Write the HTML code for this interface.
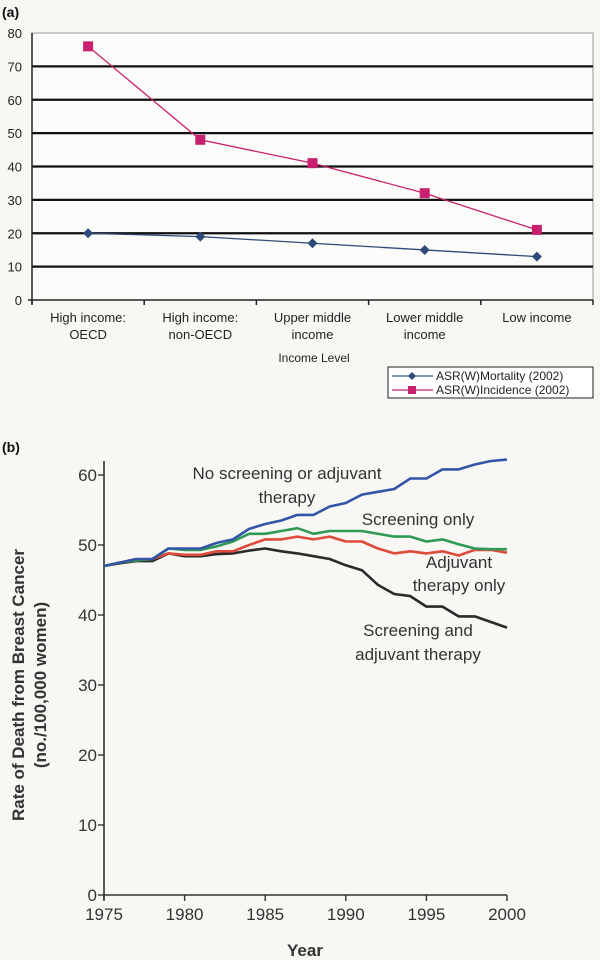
<!DOCTYPE html>
<html><head><meta charset="utf-8"><style>
html,body{margin:0;padding:0;background:#f8f7f4;}
svg{display:block;font-family:"Liberation Sans",sans-serif;}
</style></head><body>
<svg width="600" height="960" viewBox="0 0 600 960">
<text x="2" y="17" font-size="14" font-weight="bold" fill="#111">(a)</text>
<g id="chartA"></g>
<text x="2" y="452" font-size="14" font-weight="bold" fill="#111">(b)</text>
<g id="chartB"></g>
</svg>
<script>
// ---- Chart A data ----
const catsA = [["High income:","OECD"],["High income:","non-OECD"],["Upper middle","income"],["Lower middle","income"],["Low income",""]];
const mortality = [20, 19, 17, 15, 13];
const incidence = [76, 48, 41, 32, 21];
const ticksA = [0,10,20,30,40,50,60,70,80];
// ---- Chart B data ----
const years = [1975,1976,1977,1978,1979,1980,1981,1982,1983,1984,1985,1986,1987,1988,1989,1990,1991,1992,1993,1994,1995,1996,1997,1998,1999,2000];
const noScreen = [47,47.5,48,48,49.5,49.5,49.5,50.3,50.8,52.3,53,53.5,54.3,54.3,55.5,56,57.2,57.6,58,59.5,59.5,60.8,60.8,61.5,62,62.2];
const screenOnly = [47,47.5,47.8,48,49.5,49.3,49.3,49.8,50.5,51.6,51.6,52,52.4,51.6,52,52,52,51.6,51.2,51.2,50.5,50.8,50.1,49.5,49.4,49.4];
const adjOnly = [47,47.5,47.8,48,48.8,48.6,48.6,49.1,49.1,50,50.8,50.8,51.2,50.8,51.2,50.5,50.5,49.5,48.8,49.1,48.8,49.1,48.5,49.3,49.3,48.9];
const both = [47,47.4,47.7,47.7,48.8,48.4,48.4,48.7,48.8,49.2,49.5,49.1,48.8,48.4,48,47.1,46.4,44.3,43,42.7,41.2,41.2,39.8,39.8,39,38.2];
const ticksBy = [0,10,20,30,40,50,60];
const ticksBx = [1975,1980,1985,1990,1995,2000];

const NS="http://www.w3.org/2000/svg";
function mk(parent,tag,attrs,text){const e=document.createElementNS(NS,tag);for(const k in attrs)e.setAttribute(k,attrs[k]);if(text!==undefined)e.textContent=text;parent.appendChild(e);return e;}

// ---- Chart A ----
(function(){
const g=document.getElementById('chartA');
const L=32,R=593,T=33,B=300;
const y=v=>B-(v/80)*(B-T);
const band=(R-L)/catsA.length;
const x=i=>L+band*(i+0.5);
let r=mk(g,'rect',{x:L,y:T,width:R-L,height:B-T,fill:'#fbfbf9',stroke:'#999','stroke-width':1});

ticksA.forEach(t=>{
  if(t>0&&t<80){let l=mk(g,'line',{x1:L,x2:R,y1:y(t),y2:y(t),stroke:'#111','stroke-width':2.2});
  }
  let tx=mk(g,'text',{x:22,y:y(t)+5,'text-anchor':'end','font-size':13,fill:'#222'},t);
  
});
let ax=mk(g,'line',{x1:L,x2:L,y1:T,y2:B+4,stroke:'#222','stroke-width':1.5});

let bx=mk(g,'line',{x1:L-4,x2:R,y1:B,y2:B,stroke:'#222','stroke-width':1.5});

for(let i=0;i<=catsA.length;i++){let tk=mk(g,'line',{x1:L+band*i,x2:L+band*i,y1:B,y2:B+5,stroke:'#222','stroke-width':1.5});
}
catsA.forEach((c,i)=>{
  let t=mk(g,'text',{x:x(i),y:322,'text-anchor':'middle','font-size':13,fill:'#222'},c[0]);
  
  if(c[1]){let t2=mk(g,'text',{x:x(i),y:339,'text-anchor':'middle','font-size':13,fill:'#222'},c[1]);
  }
});
let xt=mk(g,'text',{x:314,y:362,'text-anchor':'middle','font-size':12,fill:'#222'},'Income Level');

function series(vals,color,marker,name){
  let p=mk(g,'polyline',{points:vals.map((v,i)=>x(i)+','+y(v)).join(' '),fill:'none',stroke:color,'stroke-width':1.3});
  
  vals.forEach((v,i)=>{
    let m;
    if(marker==='sq') m=mk(g,'rect',{x:x(i)-5,y:y(v)-5,width:10,height:10,fill:color});
    else m=mk(g,'polygon',{points:`${x(i)},${y(v)-5} ${x(i)+5},${y(v)} ${x(i)},${y(v)+5} ${x(i)-5},${y(v)}`,fill:color});
    
  });
}
series(mortality,'#2d4a7a','dia','mortality');
series(incidence,'#c8206e','sq','incidence');
// legend
let lg=mk(g,'g',{});
mk(lg,'rect',{x:388,y:367,width:205,height:31,fill:'#fff',stroke:'#222','stroke-width':1});
let e1=mk(lg,'g',{});
mk(e1,'line',{x1:392,x2:433,y1:376,y2:376,stroke:'#2d4a7a','stroke-width':1.3});
mk(e1,'polygon',{points:'412,372 416,376 412,380 408,376',fill:'#2d4a7a'});
mk(e1,'text',{x:436,y:380,'font-size':12,fill:'#222'},'ASR(W)Mortality (2002)');
let e2=mk(lg,'g',{});
mk(e2,'line',{x1:392,x2:433,y1:390,y2:390,stroke:'#c8206e','stroke-width':1.3});
mk(e2,'rect',{x:408,y:386,width:8,height:8,fill:'#c8206e'});
mk(e2,'text',{x:436,y:394,'font-size':12,fill:'#222'},'ASR(W)Incidence (2002)');
})();

// ---- Chart B ----
(function(){
const g=document.getElementById('chartB');
const L=104,R=507,B=895,PU=7.0;
const x=yr=>L+(yr-1975)*(R-L)/25;
const y=v=>B-v*PU;
let ax=mk(g,'line',{x1:L,x2:L,y1:y(62),y2:B+5,stroke:'#333','stroke-width':1.6});

let bx=mk(g,'line',{x1:L,x2:R,y1:B,y2:B,stroke:'#333','stroke-width':1.6});

ticksBy.forEach(t=>{
  let tk=mk(g,'line',{x1:L-6,x2:L,y1:y(t),y2:y(t),stroke:'#333','stroke-width':1.4});
  
  let tx=mk(g,'text',{x:L-7,y:y(t)+6,'text-anchor':'end','font-size':17,fill:'#333'},t);
  
});
ticksBx.forEach(t=>{
  let tk=mk(g,'line',{x1:x(t),x2:x(t),y1:B,y2:B+6,stroke:'#333','stroke-width':1.4});
  
  let tx=mk(g,'text',{x:x(t),y:B+25,'text-anchor':'middle','font-size':17,fill:'#333'},t);
  
});
let xt=mk(g,'text',{x:305,y:956,'text-anchor':'middle','font-size':17,'font-weight':'bold',fill:'#333'},'Year');

let yt=mk(g,'text',{x:0,y:0,'text-anchor':'middle','font-size':17,'font-weight':'bold',fill:'#333',transform:'translate(24,685) rotate(-90)'},'Rate of Death from Breast Cancer');

let yt2=mk(g,'text',{x:0,y:0,'text-anchor':'middle','font-size':17,'font-weight':'bold',fill:'#333',transform:'translate(46,685) rotate(-90)'},'(no./100,000 women)');

function line(vals,color,name){
  let p=mk(g,'polyline',{points:vals.map((v,i)=>x(years[i]).toFixed(1)+','+y(v).toFixed(1)).join(' '),fill:'none',stroke:color,'stroke-width':2.6,'stroke-linejoin':'round'});
  
}
line(both,'#2b2b2b','line-screening-and-adjuvant');
line(adjOnly,'#de4b3a','line-adjuvant-only');
line(screenOnly,'#2e9a55','line-screening-only');
line(noScreen,'#3355a8','line-no-screening');
function lab(txt,cx,cy,name){let t=mk(g,'text',{x:cx,y:cy,'text-anchor':'middle','font-size':17,fill:'#333'},txt);
}
lab('No screening or adjuvant',287,479,'label-no-screening');
lab('therapy',287,503,'label-no-screening-2');
lab('Screening only',418,525,'label-screening-only');
lab('Adjuvant',459,568,'label-adjuvant-only');
lab('therapy only',459,591,'label-adjuvant-only-2');
lab('Screening and',418,636,'label-screening-and-adjuvant');
lab('adjuvant therapy',418,660,'label-screening-and-adjuvant-2');
})();
</script>
</body></html>
